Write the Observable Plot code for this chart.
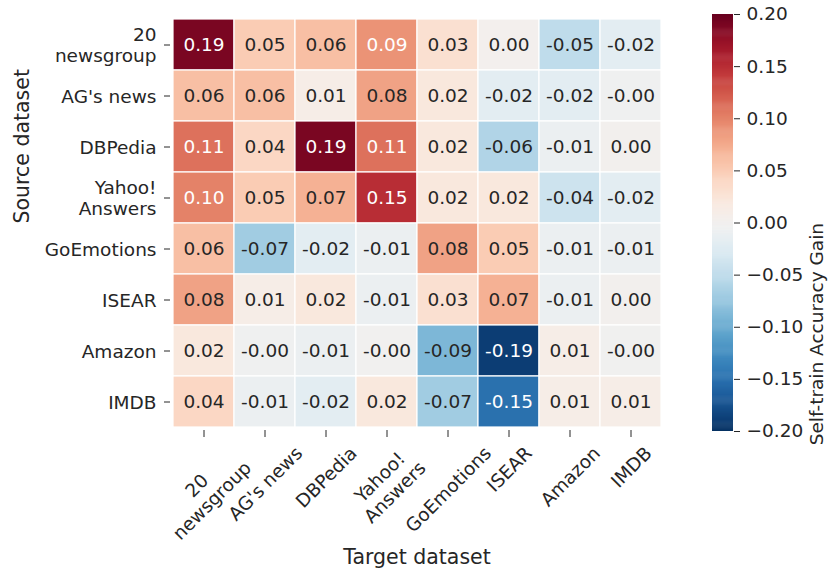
<!DOCTYPE html>
<html>
<head>
<meta charset="utf-8">
<script src="https://cdn.jsdelivr.net/npm/d3@7"></script>
<script src="https://cdn.jsdelivr.net/npm/@observablehq/plot@0.6"></script>
<style>
  body { margin: 0; background: white; }
  #wrap { position: relative; width: 829px; height: 577px; background: white; }
  #wrap > svg, #wrap > figure { position: absolute; top: 0; margin: 0; }
</style>
</head>
<body>
<div id="wrap"></div>
<script>
// ---- data ----
const sources = ["20\nnewsgroup", "AG's news", "DBPedia", "Yahoo!\nAnswers", "GoEmotions", "ISEAR", "Amazon", "IMDB"];
const targets = ["20\nnewsgroup", "AG's news", "DBPedia", "Yahoo!\nAnswers", "GoEmotions", "ISEAR", "Amazon", "IMDB"];
const row20ng    = [0.19, 0.05, 0.06, 0.09, 0.03, 0.002, -0.05, -0.02];
const rowAG      = [0.06, 0.06, 0.01, 0.08, 0.02, -0.02, -0.02, -0.004];
const rowDBP     = [0.11, 0.04, 0.19, 0.11, 0.02, -0.06, -0.01, 0.001];
const rowYahoo   = [0.10, 0.05, 0.07, 0.15, 0.02, 0.02, -0.04, -0.02];
const rowGoE     = [0.06, -0.07, -0.02, -0.01, 0.08, 0.05, -0.01, -0.01];
const rowISEAR   = [0.08, 0.01, 0.02, -0.01, 0.03, 0.07, -0.01, 0.001];
const rowAmazon  = [0.02, -0.004, -0.01, -0.002, -0.09, -0.19, 0.01, -0.003];
const rowIMDB    = [0.04, -0.01, -0.02, 0.02, -0.07, -0.15, 0.01, 0.01];
const rows = [row20ng, rowAG, rowDBP, rowYahoo, rowGoE, rowISEAR, rowAmazon, rowIMDB];
const cbarTicks = [-0.2, -0.15, -0.1, -0.05, 0, 0.05, 0.1, 0.15, 0.2];
const colorDomain = [-0.2, 0.2];

const cells = [];
sources.forEach((s, i) => targets.forEach((t, j) => cells.push({source: s, target: t, value: rows[i][j]})));

const FS = 18.5;
const FONT = "DejaVu Sans";
const INK = "#262626";

// seaborn-like annotation colour from cell luminance
function textColor(v) {
  const t = (v - colorDomain[0]) / (colorDomain[1] - colorDomain[0]);
  const c = d3.rgb(d3.interpolateRdBu(1 - t));
  const lin = x => { x /= 255; return x <= 0.03928 ? x / 12.92 : Math.pow((x + 0.055) / 1.055, 2.4); };
  const lum = 0.2126 * lin(c.r) + 0.7152 * lin(c.g) + 0.0722 * lin(c.b);
  return lum > 0.408 ? INK : "white";
}

const colorScale = {type: "linear", scheme: "RdBu", reverse: true, domain: colorDomain};

// x tick labels, rotated and centred under each tick
const ctx = document.createElement("canvas").getContext("2d");
ctx.font = `${FS}px "${FONT}"`;
const xLabelMarks = targets.map(t => {
  const lines = t.split("\n");
  const L = Math.max(...lines.map(l => ctx.measureText(l).width));
  const H = lines.length * FS * 1.1;
  const dy = 12 + (L + H) * Math.SQRT1_2 / 2;
  return Plot.text([t], {x: d => d, frameAnchor: "bottom", rotate: -45, textAnchor: "middle",
    lineAnchor: "middle", lineHeight: 1.15, dy, fontSize: FS, fill: INK});
});

const main = Plot.plot({
  width: 700, height: 577,
  marginLeft: 170, marginRight: 37, marginTop: 16, marginBottom: 147,
  style: {fontFamily: FONT, fontSize: FS + "px", color: INK, background: "transparent"},
  x: {domain: targets, padding: 0, axis: null},
  y: {domain: sources, padding: 0, axis: null},
  color: colorScale,
  marks: [
    Plot.cell(cells, {x: "target", y: "source", fill: "value", stroke: "white", strokeWidth: 1.2}),
    Plot.text(cells, {x: "target", y: "source", text: d => d.value.toFixed(2), fontSize: FS,
      fill: d => textColor(d.value)}),
    Plot.axisY({tickSize: 6, tickPadding: 8, fontSize: FS, lineHeight: 1.15, label: null, stroke: INK, fill: INK}),
    Plot.axisX({tickSize: 7, tickFormat: () => "", label: null, stroke: INK}),
    ...xLabelMarks,
    Plot.text(["Source dataset"], {frameAnchor: "left", dx: -148, rotate: -90, fontSize: 20.5, fill: INK}),
    Plot.text(["Target dataset"], {frameAnchor: "bottom", dy: 133, fontSize: 20.5, fill: INK})
  ]
});
main.style.left = "0px";

const grad = d3.range(-0.2, 0.2, 0.001);
const cbar = Plot.plot({
  width: 129, height: 577,
  marginLeft: 12, marginRight: 96, marginTop: 14, marginBottom: 146,
  style: {fontFamily: FONT, fontSize: FS + "px", color: INK, background: "transparent"},
  x: {domain: [0, 1], axis: null},
  y: {domain: colorDomain, axis: null},
  color: colorScale,
  marks: [
    Plot.rect(grad, {x1: 0, x2: 1, y1: d => d, y2: d => Math.min(0.2, d + 0.0015), fill: d => d + 0.0005}),
    Plot.axisY({anchor: "right", ticks: cbarTicks, tickSize: 6, tickPadding: 7, fontSize: FS,
      tickFormat: d => (d < 0 ? "\u2212" : "") + Math.abs(d).toFixed(2), label: null, stroke: INK, fill: INK}),
    Plot.text(["Self-train Accuracy Gain"], {frameAnchor: "right", dx: 84, rotate: -90, fontSize: 18.5, fill: INK})
  ]
});
cbar.style.left = "700px";

const wrap = document.getElementById("wrap");
wrap.appendChild(main);
wrap.appendChild(cbar);
</script>
</body>
</html>
